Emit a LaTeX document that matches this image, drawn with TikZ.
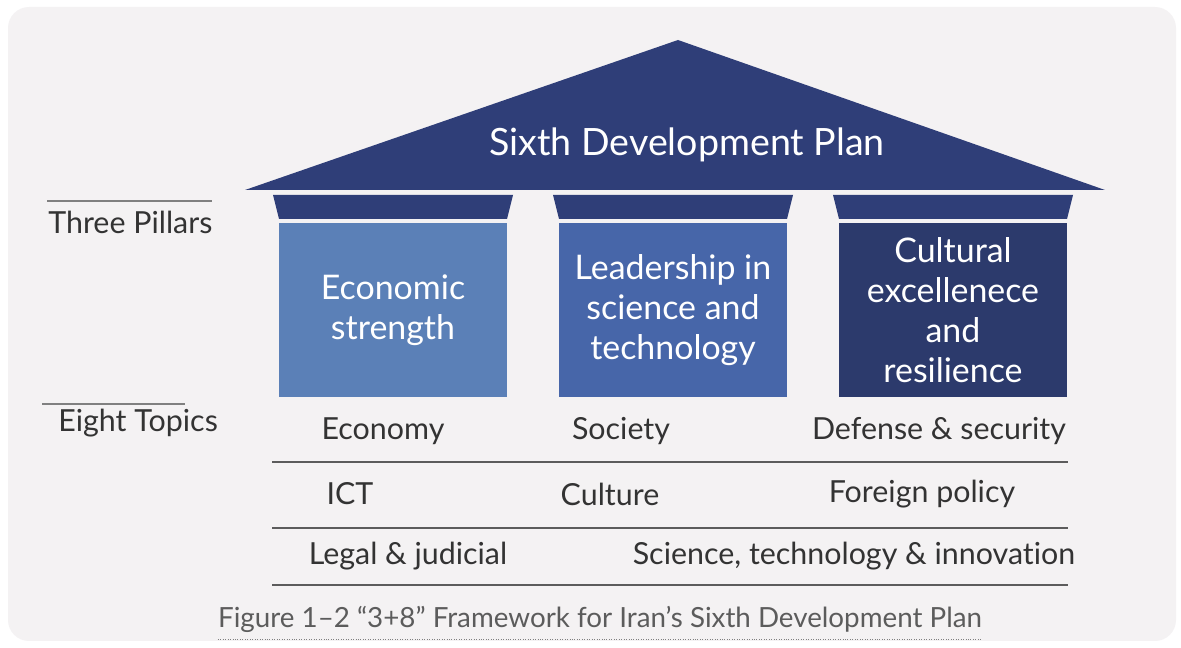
\documentclass[tikz,border=0pt]{standalone}
\usepackage{fontspec}
\setmainfont{Lato}[Ligatures={NoCommon,NoRare,NoDiscretionary}]
\usepackage{xcolor}
\definecolor{roofblue}{HTML}{2F3E78}
\definecolor{econblue}{HTML}{5B80B7}
\definecolor{sciblue}{HTML}{4766A9}
\definecolor{cultblue}{HTML}{2C3A6C}
\definecolor{paper}{HTML}{F4F2F3}
\definecolor{ink}{HTML}{333333}

\begin{document}
\begin{tikzpicture}[x=0.02cm,y=-0.02cm,
    pillar/.style={rectangle,minimum width=4.56cm,minimum height=3.48cm,inner sep=0pt,text=white,align=center,font=\fontsize{19.3}{22.7}\selectfont},
    topic/.style={inner sep=0pt,text=ink,font=\fontsize{17.3}{20}\selectfont},
    sidelabel/.style={inner sep=0pt,anchor=west,text=ink,font=\fontsize{17.3}{20}\selectfont},
    rule/.style={draw=ink!80,line width=0.9pt}]
    \useasboundingbox (0,0) rectangle (1181,648);
    \fill[white] (0,0) rectangle (1181,648);
    \fill[paper,rounded corners=12] (8,7) rectangle (1176,641);
    \fill[roofblue] (245,190) -- (678,40) -- (1105,190) -- cycle;
    \node[text=white,font=\fontsize{21.4}{25}\selectfont] (plan) at (687,145) {Sixth Development Plan};
    \foreach \cx in {393,673,953}
        \fill[roofblue] (\cx-120,195) -- (\cx+120,195) -- (\cx+114,219) -- (\cx-114,219) -- cycle;
    \node[pillar,fill=econblue] (econ) at (393,310) {Economic\\strength};
    \node[pillar,fill=sciblue] (sci) at (673,310) {Leadership in\\science and\\technology};
    \node[pillar,fill=cultblue] (cult) at (953,310) {Cultural\\excellenece\\and\\resilience};
    \draw[rule,draw=gray] (47,201) -- (212,201);
    \node[sidelabel] (pillars) at (48,222) {Three Pillars};
    \draw[rule,draw=gray] (42,404) -- (185,404);
    \node[sidelabel] (topics) at (58,423) {Eight Topics};
    \node[topic] (economy) at (383,431) {Economy};
    \node[topic] (society) at (621,431) {Society};
    \node[topic] (defense) at (939,431) {Defense \& security};
    \node[topic] (ict) at (350,494) {ICT};
    \node[topic] (culture) at (610,494) {Culture};
    \node[topic] (foreign) at (922,494) {Foreign policy};
    \node[topic] (legal) at (408,556) {Legal \& judicial};
    \node[topic] (science) at (854,556) {Science, technology \& innovation};
    \foreach \ry in {462,528,585}
        \draw[rule] (272,\ry) -- (1068,\ry);
    \node[inner sep=0pt,text=ink!80,font=\fontsize{15.8}{19}\selectfont] (caption) at (600,619) {Figure 1–2 “3+8” Framework for Iran’s Sixth Development Plan};
    \draw[densely dotted,gray] ([yshift=-4pt]caption.south west) -- ([yshift=-4pt]caption.south east);
\end{tikzpicture}
\end{document}
